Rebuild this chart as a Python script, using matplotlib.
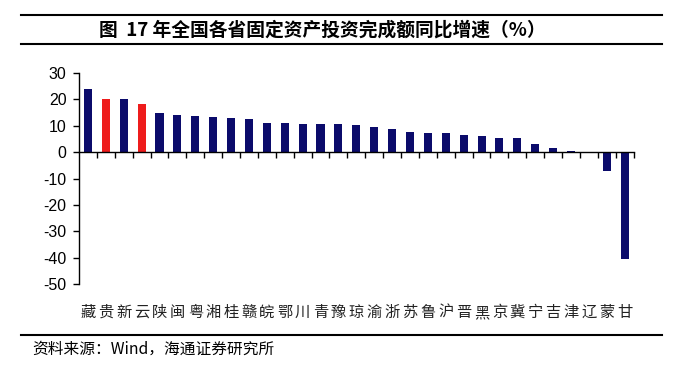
import numpy as np
import matplotlib.pyplot as plt
from matplotlib.lines import Line2D

plt.rcParams['font.family'] = ['Noto Sans CJK SC', 'DejaVu Sans']

# 各省份（按增速排序）
provinces = ['藏', '贵', '新', '云', '陕', '闽', '粤', '湘', '桂', '赣', '皖', '鄂', '川', '青', '豫', '琼',
             '渝', '浙', '苏', '鲁', '沪', '晋', '黑', '京', '冀', '宁', '吉', '津', '辽', '蒙', '甘']
growth = [23.8, 20.1, 20.0, 18.2, 14.8, 14.0, 13.6, 13.2, 12.9, 12.5, 11.1, 11.1, 10.6, 10.6, 10.6, 10.3,
          9.5, 8.8, 7.7, 7.2, 7.2, 6.5, 6.1, 5.4, 5.3, 3.0, 1.4, 0.5, 0.1, -7.3, -40.5]
highlight = ['贵', '云']
yticks = [30, 20, 10, 0, -10, -20, -30, -40, -50]

navy = '#0b0b6b'
red = '#ee1c1c'

fig = plt.figure(figsize=(6.92, 3.70), dpi=100)
ax = fig.add_axes([79 / 692, 1 - 284 / 370, 554.6 / 692, 211 / 370])

x = np.arange(len(provinces))
colors = [red if p in highlight else navy for p in provinces]
ax.bar(x, growth, width=0.45, color=colors, zorder=2)

ax.set_xlim(-0.5, len(provinces) - 0.5)
ax.set_ylim(-50, 30)
ax.set_yticks(yticks)
ax.set_yticklabels([str(v) for v in yticks], fontsize=11.5, family='Liberation Sans')
ax.tick_params(axis='y', direction='out', length=4, width=1, pad=5)

# 零线与分隔刻度
ax.spines['top'].set_visible(False)
ax.spines['right'].set_visible(False)
ax.spines['bottom'].set_position(('data', 0))
ax.spines['bottom'].set_linewidth(1)
ax.spines['left'].set_linewidth(1)
ax.set_xticks(np.arange(len(provinces)) + 0.5)
ax.set_xticklabels([])
ax.tick_params(axis='x', direction='out', length=4, width=1)

for xi, p in zip(x, provinces):
    ax.text(xi, -0.135, p, transform=ax.get_xaxis_transform(), ha='center', va='center',
            fontsize=11, color='#222222')

# 标题与横线
fig.add_artist(Line2D([21 / 692, 662 / 692], [1 - 15 / 370] * 2, color='black', lw=1.5))
fig.add_artist(Line2D([21 / 692, 662 / 692], [1 - 44 / 370] * 2, color='black', lw=1.5))
fig.add_artist(Line2D([21 / 692, 662 / 692], [1 - 335 / 370] * 2, color='black', lw=1.5))
fig.text(322 / 692, 1 - 30 / 370, '图  17 年全国各省固定资产投资完成额同比增速（%）', ha='center', va='center',
         fontsize=13.5, fontweight='bold')
fig.text(32 / 692, 1 - 349 / 370, '资料来源：Wind，海通证券研究所', ha='left', va='center', fontsize=11.3)

fig.savefig('out.png', dpi=100)
